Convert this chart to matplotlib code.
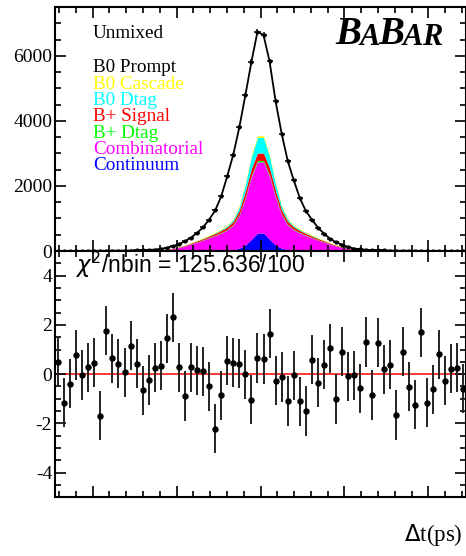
import numpy as np
import matplotlib
matplotlib.use("Agg")
import matplotlib.pyplot as plt
from matplotlib.ticker import MultipleLocator

plt.rcParams['font.family'] = ['Liberation Serif', 'DejaVu Serif']
plt.rcParams['axes.unicode_minus'] = False

# binning in delta t (ps), only the shown range
dt_min, dt_max, n_bins = -12.24, 12.24, 68

# events per bin
n_data = [2, 3, 3, 3, 4, 4, 5, 6, 7, 8, 10, 12, 15, 19, 25, 33, 44,
          62, 100, 150, 210, 300, 410, 555, 730, 965, 1245, 1680, 2300, 2965, 3805, 4790, 5815, 6740,
          6635, 5830, 4600, 3610, 2770, 2175, 1630, 1230, 965, 720, 535, 380, 270, 195, 125, 75, 55,
          38, 28, 21, 16, 12, 10, 8, 7, 6, 5, 4, 4, 3, 3, 3, 2, 2]

# fit components per bin, stacked from the bottom up
continuum = [0, 0, 0, 0, 0, 0, 0, 0, 0, 0, 0, 0, 0, 0, 1, 1, 1,
             1, 1, 2, 2, 3, 3, 4, 5, 6, 8, 13, 22, 40, 85, 180, 360, 550,
             550, 360, 180, 85, 40, 22, 13, 8, 6, 5, 4, 3, 3, 2, 2, 1, 1,
             1, 1, 1, 0, 0, 0, 0, 0, 0, 0, 0, 0, 0, 0, 0, 0, 0]
combinatorial = [2, 2, 2, 2, 2, 3, 3, 3, 4, 4, 5, 5, 7, 8, 10, 15, 22,
                 30, 47, 70, 106, 150, 209, 269, 331, 397, 468, 542, 624, 758, 1019, 1467, 1934, 2187,
                 2187, 1934, 1467, 1019, 758, 624, 542, 468, 397, 331, 269, 209, 150, 106, 70, 47, 30,
                 22, 15, 10, 8, 7, 5, 5, 4, 4, 3, 3, 3, 2, 2, 2, 2, 2]
bplus_dtag = [0, 0, 0, 0, 0, 0, 0, 0, 0, 0, 0, 0, 0, 1, 1, 1, 1,
              2, 2, 3, 4, 6, 7, 9, 10, 12, 14, 16, 19, 22, 28, 35, 42, 48,
              48, 42, 35, 28, 22, 19, 16, 14, 12, 10, 9, 7, 6, 4, 3, 2, 2,
              1, 1, 1, 1, 0, 0, 0, 0, 0, 0, 0, 0, 0, 0, 0, 0, 0]
bplus_signal = [0, 0, 0, 0, 0, 0, 0, 0, 0, 1, 1, 1, 1, 1, 2, 2, 3,
                4, 6, 9, 12, 17, 23, 30, 36, 42, 50, 60, 72, 92, 125, 170, 210, 225,
                225, 210, 170, 125, 92, 72, 60, 50, 42, 36, 30, 23, 17, 12, 9, 6, 4,
                3, 2, 2, 1, 1, 1, 1, 1, 0, 0, 0, 0, 0, 0, 0, 0, 0]
b0_dtag = [0, 0, 0, 0, 0, 0, 0, 0, 0, 0, 0, 0, 0, 1, 1, 1, 1,
           2, 2, 3, 4, 5, 7, 9, 12, 15, 20, 27, 38, 60, 110, 210, 360, 480,
           480, 360, 210, 110, 60, 38, 27, 20, 15, 12, 9, 7, 5, 4, 3, 2, 2,
           1, 1, 1, 1, 0, 0, 0, 0, 0, 0, 0, 0, 0, 0, 0, 0, 0]
b0_cascade = [0, 0, 0, 0, 0, 0, 0, 0, 0, 0, 0, 1, 1, 1, 1, 2, 2,
              3, 4, 5, 7, 9, 11, 14, 16, 18, 20, 22, 25, 28, 33, 38, 44, 50,
              50, 44, 38, 33, 28, 25, 22, 20, 18, 16, 14, 11, 9, 7, 5, 4, 3,
              2, 2, 1, 1, 1, 1, 0, 0, 0, 0, 0, 0, 0, 0, 0, 0, 0]
b0_prompt = [0, 1, 1, 1, 2, 1, 2, 3, 3, 3, 4, 5, 6, 7, 9, 11, 14,
             20, 38, 58, 75, 110, 150, 220, 320, 475, 665, 1000, 1500, 1965, 2405, 2690, 2865, 3200,
             3095, 2880, 2500, 2210, 1770, 1375, 950, 650, 475, 310, 200, 120, 80, 60, 33, 13, 13,
             8, 6, 5, 4, 3, 3, 2, 2, 2, 2, 1, 1, 1, 1, 1, 0, 0]

# (data - fit) / error
pulls = [0.49, -1.16, -0.38, 0.78, -0.03, 0.28, 0.47, -1.68, 1.77, 0.65,
         0.42, 0.07, 1.16, 0.43, -0.66, -0.24, 0.26, 0.34, 1.46, 2.31,
         0.28, -0.89, 0.28, 0.16, 0.11, -0.50, -2.22, -0.86, 0.54, 0.47,
         0.42, 0.00, -1.04, 0.66, 0.62, 1.65, -0.26, -0.12, -1.09, -0.05,
         -1.11, -1.50, 0.58, -0.35, 0.38, 1.05, -1.01, 0.91, -0.09, -0.04,
         -0.57, 1.30, -0.85, 1.27, 0.19, 0.39, -1.66, 0.91, -0.51, -1.24,
         1.70, -1.16, -0.62, 0.80, -0.27, 0.22, 0.26, -0.59]
chi2, nbin_fit = 125.636, 100

legend_names = ["B0 Prompt", "B0 Cascade", "B0 Dtag", "B+ Signal",
                "B+ Dtag", "Combinatorial", "Continuum"]
legend_colors = ["black", "#ffff00", "#00ffff", "#ff0000",
                 "#00ff00", "#ff00ff", "#0000ff"]

edges = np.linspace(dt_min, dt_max, n_bins + 1)
dt = 0.5 * (edges[:-1] + edges[1:])
half_bin = 0.5 * (edges[1] - edges[0])

fig = plt.figure(figsize=(4.66, 5.56), dpi=100)
ax1 = fig.add_axes([0.11803, 0.54856, 0.88197, 0.43831])
ax2 = fig.add_axes([0.11803, 0.10558, 0.88197, 0.44299])

# stacked background components
stack = [continuum, combinatorial, bplus_dtag, bplus_signal, b0_dtag, b0_cascade]
stack_colors = ["#0000ff", "#ff00ff", "#00ff00", "#ff0000", "#00ffff", "#ffff00"]
level = np.zeros(n_bins)
for comp, col in zip(stack, stack_colors):
    top = level + np.array(comp)
    ax1.fill_between(dt, level, top, color=col, linewidth=0)
    level = top

fit_total = level + np.array(b0_prompt)
ax1.plot(dt, fit_total, color='black', linewidth=1.3)
ax1.errorbar(dt, n_data, xerr=half_bin, yerr=np.sqrt(n_data), fmt='o', color='black',
             markersize=2, elinewidth=1.1, capsize=0)

ax1.set_xlim(dt_min, dt_max)
ax1.set_ylim(0, 7490)
ax1.yaxis.set_major_locator(MultipleLocator(2000))
ax1.yaxis.set_minor_locator(MultipleLocator(500))

# residuals
ax2.axhline(0, color='red', linewidth=1.1, zorder=1)
ax2.errorbar(dt, pulls, yerr=1.0, fmt='o', color='black', ecolor='#222222',
             markersize=3.6, elinewidth=1.4, capsize=0, zorder=2)
ax2.set_xlim(dt_min, dt_max)
ax2.set_ylim(-5, 5)
ax2.yaxis.set_major_locator(MultipleLocator(2))
ax2.yaxis.set_minor_locator(MultipleLocator(0.5))

for ax in (ax1, ax2):
    ax.xaxis.set_major_locator(MultipleLocator(5))
    ax.xaxis.set_minor_locator(MultipleLocator(1))
    ax.tick_params(which='both', direction='in', top=True, right=True,
                   width=1.2, labelsize=14, pad=2)
    ax.tick_params(which='major', length=8)
    ax.tick_params(which='minor', length=4)
    ax.tick_params(axis='x', labelbottom=False)
    for sp in ax.spines.values():
        sp.set_linewidth(1.5)

# labels
fig.text(93 / 466, 1 - 34 / 556, "Unmixed", fontsize=13.8, va='center')
for i, (name, col) in enumerate(zip(legend_names, legend_colors)):
    fig.text(93 / 466, 1 - (68 + 16.3 * i) / 556, name, color=col,
             fontsize=13.8, va='center')

fig.text(75 / 466, 1 - 273 / 556, r"$\chi^2$/nbin = %.3f/%d" % (chi2, nbin_fit),
         family=['Liberation Sans', 'DejaVu Sans'], fontsize=16.5, va='baseline')
fig.text(463 / 466, 1 - 535 / 556, r"$\Delta$t(ps)", fontsize=16.5,
         ha='right', va='center')

# BaBar logo with small caps
logo = [("B", 28, 0), ("A", 22, 1.3), ("B", 28, -1.3), ("A", 22, 1.3), ("R", 22, 0)]
prev = fig.text(335 / 466, 1 - 53.5 / 556, logo[0][0], fontsize=logo[0][1],
                fontweight='bold', fontstyle='italic', va='bottom')
for letter, size, dy in logo[1:]:
    prev = ax1.annotate(letter, xy=(1, 0), xycoords=prev, xytext=(-1, dy),
                        textcoords='offset points', fontsize=size,
                        fontweight='bold', fontstyle='italic', va='bottom',
                        annotation_clip=False)

fig.savefig("out.png", dpi=100)
